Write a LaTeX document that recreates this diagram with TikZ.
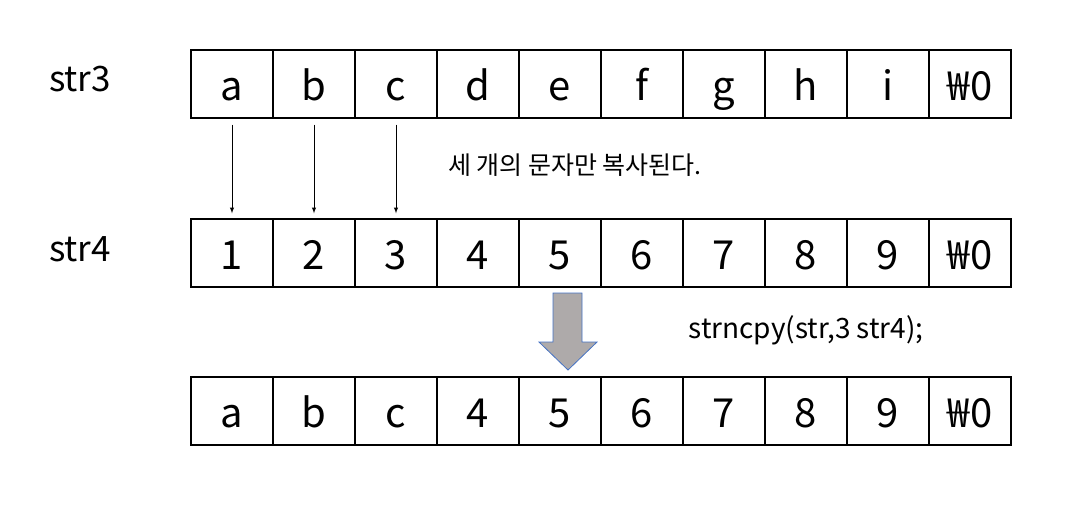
\documentclass[tikz,border=0pt]{standalone}
\usepackage{fontspec}
\setmainfont{Noto Sans CJK KR}
\usepackage{xcolor}
\usepackage{tikz}
\definecolor{arrowgray}{HTML}{AEAAAA}
\definecolor{arrowedge}{HTML}{4472C4}

\begin{document}
\begin{tikzpicture}[x=1pt, y=-1pt,
  cell/.style={draw, line width=1.4pt, minimum width=82pt, minimum height=68pt,
               inner sep=0pt, text height=32pt, text depth=0pt,
               font=\fontsize{40}{40}\selectfont},
  rowlabel/.style={inner sep=0pt, text height=24pt, text depth=0pt,
                   font=\fontsize{35}{35}\selectfont},
  arr/.style={-latex, line width=1pt, shorten <=6pt, shorten >=5pt},
  note/.style={font=\fontsize{25}{25}\selectfont},
  code/.style={font=\fontsize{28}{28}\selectfont},
  blockarrow/.style={fill=arrowgray, draw=arrowedge, line width=0.8pt}
]
  \useasboundingbox (0,0) rectangle (1087,512);

  % Row labels
  \node[rowlabel] (l3) at (80,79)  {str3};
  \node[rowlabel] (l4) at (80,249) {str4};

  % str3
  \foreach \c [count=\i from 0] in {a,b,c,d,e,f,g,h,i,₩0}
    \node[cell] (s3-\i) at (232+82*\i, 84) {\c};

  % str4
  \foreach \c [count=\i from 0] in {1,2,3,4,5,6,7,8,9,₩0}
    \node[cell] (s4-\i) at (232+82*\i, 253) {\c};

  % result
  \foreach \c [count=\i from 0] in {a,b,c,4,5,6,7,8,9,₩0}
    \node[cell] (r-\i) at (232+82*\i, 411) {\c};

  % Copied characters
  \draw[arr] (s3-0) -- (s4-0);
  \draw[arr] (s3-1) -- (s4-1);
  \draw[arr] (s3-2) -- (s4-2);
  \node[note] (msg) at (575,165) {세 개의 문자만 복사된다.};

  % Result arrow
  \draw[blockarrow] (553,293) -- (582,293) -- (582,342) -- (597,342)
    -- (568,370) -- (539,342) -- (553,342) -- cycle;
  \node[code] (call) at (806,330) {strncpy(str,3 str4);};
\end{tikzpicture}
\end{document}
